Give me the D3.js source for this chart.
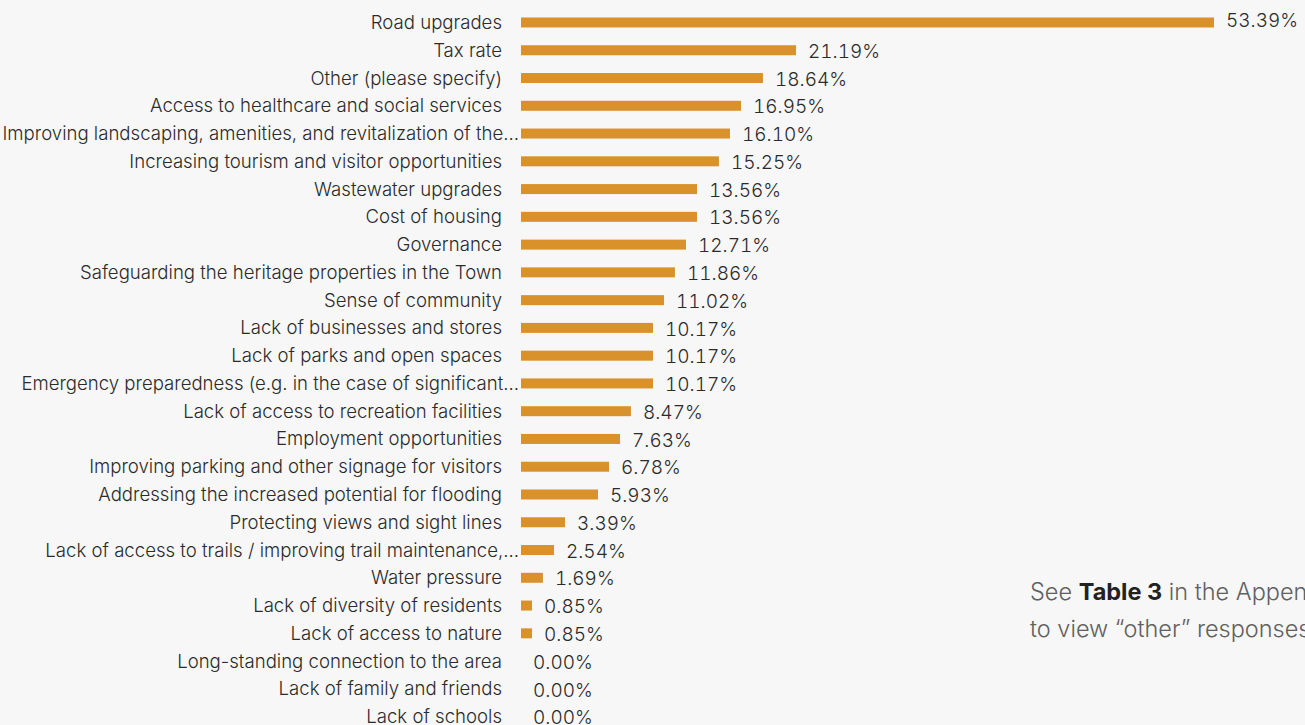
<!DOCTYPE html>
<html><head><meta charset="utf-8">
<script src="https://cdn.jsdelivr.net/npm/d3@7"></script>
<style>
html,body{margin:0;padding:0;background:#f7f7f7;overflow:hidden}
svg{display:block}
</style></head><body>
<svg id="c" width="1305" height="725"></svg>
<script>
const categories = [
  "Road upgrades","Tax rate","Other (please specify)","Access to healthcare and social services",
  "Improving landscaping, amenities, and revitalization of the…","Increasing tourism and visitor opportunities",
  "Wastewater upgrades","Cost of housing","Governance","Safeguarding the heritage properties in the Town",
  "Sense of community","Lack of businesses and stores","Lack of parks and open spaces",
  "Emergency preparedness (e.g. in the case of significant…","Lack of access to recreation facilities",
  "Employment opportunities","Improving parking and other signage for visitors",
  "Addressing the increased potential for flooding","Protecting views and sight lines",
  "Lack of access to trails / improving trail maintenance,…","Water pressure","Lack of diversity of residents",
  "Lack of access to nature","Long-standing connection to the area","Lack of family and friends","Lack of schools"
];
const values = [53.39,21.19,18.64,16.95,16.10,15.25,13.56,13.56,12.71,11.86,11.02,10.17,10.17,10.17,8.47,7.63,6.78,5.93,3.39,2.54,1.69,0.85,0.85,0.00,0.00,0.00];
const noteLine1 = ["See ", "Table 3", " in the Appendix"];
const noteLine2 = "to view “other” responses";

const svg = d3.select("#c");
const font = "Inter, 'Liberation Sans', sans-serif";
const x0 = 521;
const x = d3.scaleLinear().domain([0, 53.39]).range([x0, 1214]);
const y = d3.scaleBand().domain(categories).range([8.6, 730.5]).paddingInner(0.64).paddingOuter(0.32);

const g = svg.append("g");
g.selectAll("rect").data(values).join("rect")
  .attr("x", x0).attr("y", (d,i)=>y(categories[i]))
  .attr("width", d=>x(d)-x0).attr("height", y.bandwidth())
  .attr("fill", "#d9922b");

g.selectAll("text.cat").data(categories).join("text").attr("class","cat")
  .attr("x", d=>d.endsWith("…") ? 519 : 502)
  .attr("y", d=>y(d)+y.bandwidth()/2)
  .attr("dy","0.35em").attr("text-anchor","end")
  .attr("font-family", font).attr("font-weight",300).attr("font-size",18.6)
  .attr("fill","#2b2b2b").text(d=>d);

g.selectAll("text.val").data(values).join("text").attr("class","val")
  .attr("x", d=>x(d)+12)
  .attr("y", (d,i)=>y(categories[i])+y.bandwidth()/2 + (i===0?-2:1))
  .attr("dy","0.35em")
  .attr("font-family", font).attr("font-weight",300).attr("font-size",19)
  .style("font-feature-settings","'tnum'")
  .attr("fill","#2b2b2b").text(d=>d.toFixed(2)+"%");

const n1 = svg.append("text").attr("x",1030).attr("y",600)
  .attr("font-family", font).attr("font-weight",300).attr("font-size",23.5).attr("fill","#606060");
n1.selectAll("tspan").data(noteLine1).join("tspan")
  .attr("font-weight",(d,i)=>i===1?700:300).attr("fill",(d,i)=>i===1?"#222":"#606060").text(d=>d);
svg.append("text").attr("x",1030).attr("y",637)
  .attr("font-family", font).attr("font-weight",300).attr("font-size",23.5).attr("fill","#606060").text(noteLine2);
</script>
</body></html>
